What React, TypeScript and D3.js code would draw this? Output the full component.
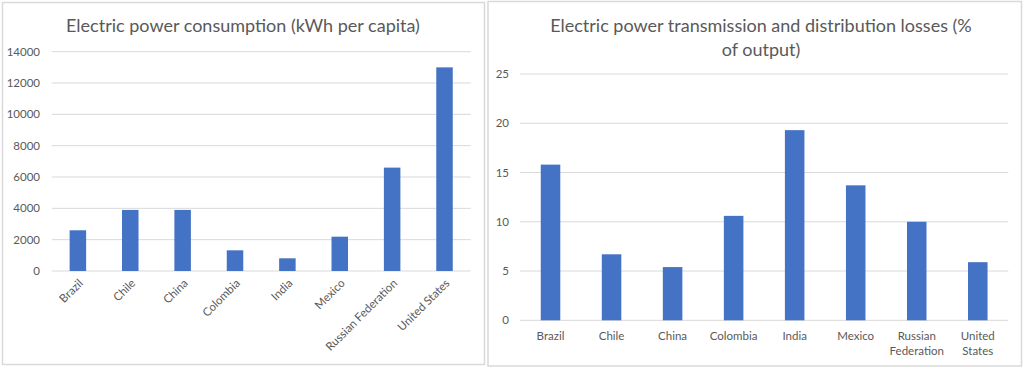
import * as d3 from "d3";
import { useEffect, useRef } from "react";

const countries = [
  "Brazil",
  "Chile",
  "China",
  "Colombia",
  "India",
  "Mexico",
  "Russian Federation",
  "United States",
];

// kWh per capita
const consumption = [2600, 3900, 3900, 1320, 810, 2190, 6600, 13000];
const consumptionTicks = [0, 2000, 4000, 6000, 8000, 10000, 12000, 14000];

// % of output
const losses = [15.8, 6.7, 5.4, 10.6, 19.3, 13.7, 10.0, 5.9];
const lossTicks = [0, 5, 10, 15, 20, 25];

const BAR = "#4472c4";
const GRID = "#d9d9d9";
const TEXT = "#595959";
const FONT = "Lato, 'Open Sans', sans-serif";

export default function App() {
  const svgRef = useRef<SVGSVGElement>(null);

  useEffect(() => {
    if (!svgRef.current) return;
    const svg = d3.select(svgRef.current);
    svg.selectAll("*").remove();

    // Chart frames
    svg
      .append("rect")
      .attr("x", 2.5)
      .attr("y", 2.5)
      .attr("width", 482)
      .attr("height", 362)
      .attr("fill", "white")
      .attr("stroke", GRID)
      .attr("stroke-width", 1.5);

    svg
      .append("rect")
      .attr("x", 488)
      .attr("y", 1.5)
      .attr("width", 533.5)
      .attr("height", 364.5)
      .attr("fill", "white")
      .attr("stroke", GRID)
      .attr("stroke-width", 1.5);

    // ---- Left chart: consumption ----
    const left = svg.append("g");
    const x1 = d3.scaleBand().domain(countries).range([51.7, 470.7]);
    const y1 = d3.scaleLinear().domain([0, 14000]).range([271, 51.7]);

    left
      .append("text")
      .attr("x", 243)
      .attr("y", 32)
      .attr("text-anchor", "middle")
      .style("font-family", FONT)
      .style("font-size", "18px")
      .style("fill", TEXT)
      .text("Electric power consumption (kWh per capita)");

    left
      .selectAll(".grid")
      .data(consumptionTicks)
      .enter()
      .append("line")
      .attr("x1", 51.7)
      .attr("x2", 470.7)
      .attr("y1", (d) => y1(d))
      .attr("y2", (d) => y1(d))
      .attr("stroke", GRID)
      .attr("stroke-width", 1);

    left
      .selectAll(".ytick")
      .data(consumptionTicks)
      .enter()
      .append("text")
      .attr("x", 40)
      .attr("y", (d) => y1(d))
      .attr("dy", "0.35em")
      .attr("text-anchor", "end")
      .style("font-family", FONT)
      .style("font-size", "11.5px")
      .style("fill", TEXT)
      .text((d) => String(d));

    const bw1 = x1.bandwidth() * 0.315;
    left
      .selectAll(".bar")
      .data(consumption)
      .enter()
      .append("rect")
      .attr("x", (_, i) => x1(countries[i])! + x1.bandwidth() / 2 - bw1 / 2)
      .attr("y", (d) => y1(d))
      .attr("width", bw1)
      .attr("height", (d) => y1(0) - y1(d))
      .attr("fill", BAR);

    left
      .selectAll(".xlab")
      .data(countries)
      .enter()
      .append("text")
      .attr(
        "transform",
        (d) => `translate(${x1(d)! + x1.bandwidth() / 2 + 3},${y1(0) + 10}) rotate(-45)`,
      )
      .attr("text-anchor", "end")
      .attr("dy", "0.35em")
      .style("font-family", FONT)
      .style("font-size", "11.5px")
      .style("fill", TEXT)
      .text((d) => d);

    // ---- Right chart: losses ----
    const right = svg.append("g");
    const x2 = d3.scaleBand().domain(countries).range([520, 1008.3]);
    const y2 = d3.scaleLinear().domain([0, 25]).range([320.3, 74]);

    right
      .selectAll(".title")
      .data(["Electric power transmission and distribution losses (%", "of output)"])
      .enter()
      .append("text")
      .attr("x", 761)
      .attr("y", (_, i) => 32 + i * 24)
      .attr("text-anchor", "middle")
      .style("font-family", FONT)
      .style("font-size", "18px")
      .style("fill", TEXT)
      .text((d) => d);

    right
      .selectAll(".grid")
      .data(lossTicks)
      .enter()
      .append("line")
      .attr("x1", 520)
      .attr("x2", 1008.3)
      .attr("y1", (d) => y2(d))
      .attr("y2", (d) => y2(d))
      .attr("stroke", GRID)
      .attr("stroke-width", 1);

    right
      .selectAll(".ytick")
      .data(lossTicks)
      .enter()
      .append("text")
      .attr("x", 509)
      .attr("y", (d) => y2(d))
      .attr("dy", "0.35em")
      .attr("text-anchor", "end")
      .style("font-family", FONT)
      .style("font-size", "11.5px")
      .style("fill", TEXT)
      .text((d) => String(d));

    const bw2 = x2.bandwidth() * 0.32;
    right
      .selectAll(".bar")
      .data(losses)
      .enter()
      .append("rect")
      .attr("x", (_, i) => x2(countries[i])! + x2.bandwidth() / 2 - bw2 / 2)
      .attr("y", (d) => y2(d))
      .attr("width", bw2)
      .attr("height", (d) => y2(0) - y2(d))
      .attr("fill", BAR);

    const labels = right
      .selectAll(".xlab")
      .data(countries)
      .enter()
      .append("text")
      .attr("text-anchor", "middle")
      .style("font-family", FONT)
      .style("font-size", "11.5px")
      .style("fill", TEXT);

    labels.each(function (d) {
      const words = d.split(" ");
      const cx = x2(d)! + x2.bandwidth() / 2;
      words.forEach((w, i) => {
        d3.select(this)
          .append("tspan")
          .attr("x", cx)
          .attr("y", 340 + i * 14.5)
          .text(w);
      });
    });
  }, []);

  return (
    <svg
      ref={svgRef}
      width={1024}
      height={368}
      style={{ position: "absolute", left: 0, top: 0, background: "white" }}
    />
  );
}
